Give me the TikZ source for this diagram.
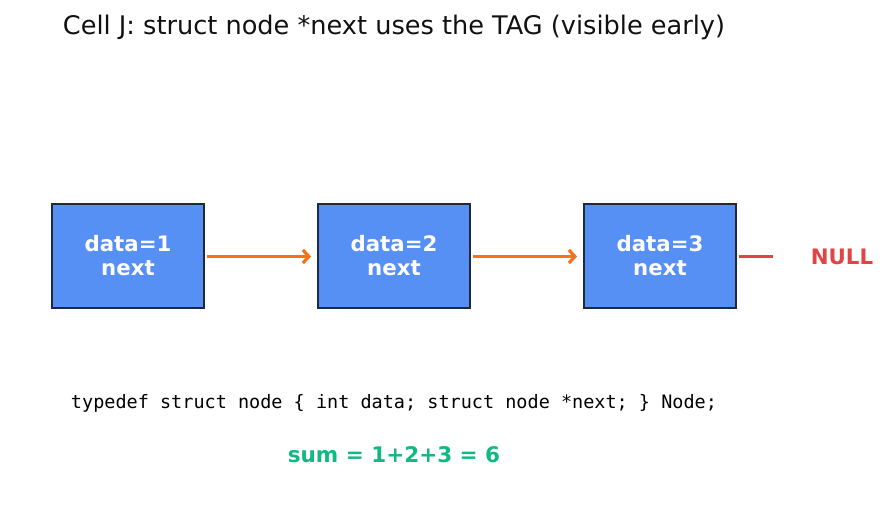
\documentclass[tikz,border=0pt]{standalone}
\usepackage{fontspec}
\setmainfont{DejaVu Sans}
\setmonofont{DejaVu Sans Mono}
\usetikzlibrary{arrows.meta}
\definecolor{boxblue}{HTML}{5790F5}
\definecolor{boxedge}{HTML}{1F2937}
\definecolor{arroworange}{HTML}{F97316}
\definecolor{nullred}{HTML}{E04444}
\definecolor{sumgreen}{HTML}{10B981}
\definecolor{titleblack}{HTML}{111111}
\begin{document}
\begin{tikzpicture}[x=1pt,y=1pt,
  listnode/.style={draw=boxedge, line width=1.8pt, fill=boxblue, minimum width=152pt, minimum height=104pt, inner sep=0pt, align=center, text=white, font=\fontsize{21.3}{24}\selectfont\bfseries},
  linkarrow/.style={draw=arroworange, line width=3.2pt, -{Straight Barb[length=6pt,width=13pt,line width=3.2pt]}, shorten >=6pt, shorten <=2pt}
]
\useasboundingbox (0,0) rectangle (887,512);
\node[font=\fontsize{25.6}{29}\selectfont, text=titleblack, anchor=center] (title) at (394,484.5) {Cell J: struct node *next uses the TAG (visible early)};
\node[listnode] (n1) at (128,256) {data=1\\next};
\node[listnode] (n2) at (394,256) {data=2\\next};
\node[listnode] (n3) at (660,256) {data=3\\next};
\node[text=nullred, font=\fontsize{21.3}{24}\selectfont\bfseries] (null) at (842,255.5) {NULL};
\coordinate (nullend) at (773,255.5);
\draw[linkarrow] ([yshift=-0.5pt]n1.east) -- ([yshift=-0.5pt]n2.west);
\draw[linkarrow] ([yshift=-0.5pt]n2.east) -- ([yshift=-0.5pt]n3.west);
\draw[nullred, line width=3.2pt, shorten <=2pt] ([yshift=-0.5pt]n3.east) -- (nullend);
\node[font=\ttfamily\fontsize{18.5}{21}\selectfont] (code) at (394,109) {typedef struct node \{ int data; struct node *next; \} Node;};
\node[text=sumgreen, font=\fontsize{21.5}{24}\selectfont\bfseries] (sum) at (394,57.5) {sum = 1+2+3 = 6};
\end{tikzpicture}
\end{document}
